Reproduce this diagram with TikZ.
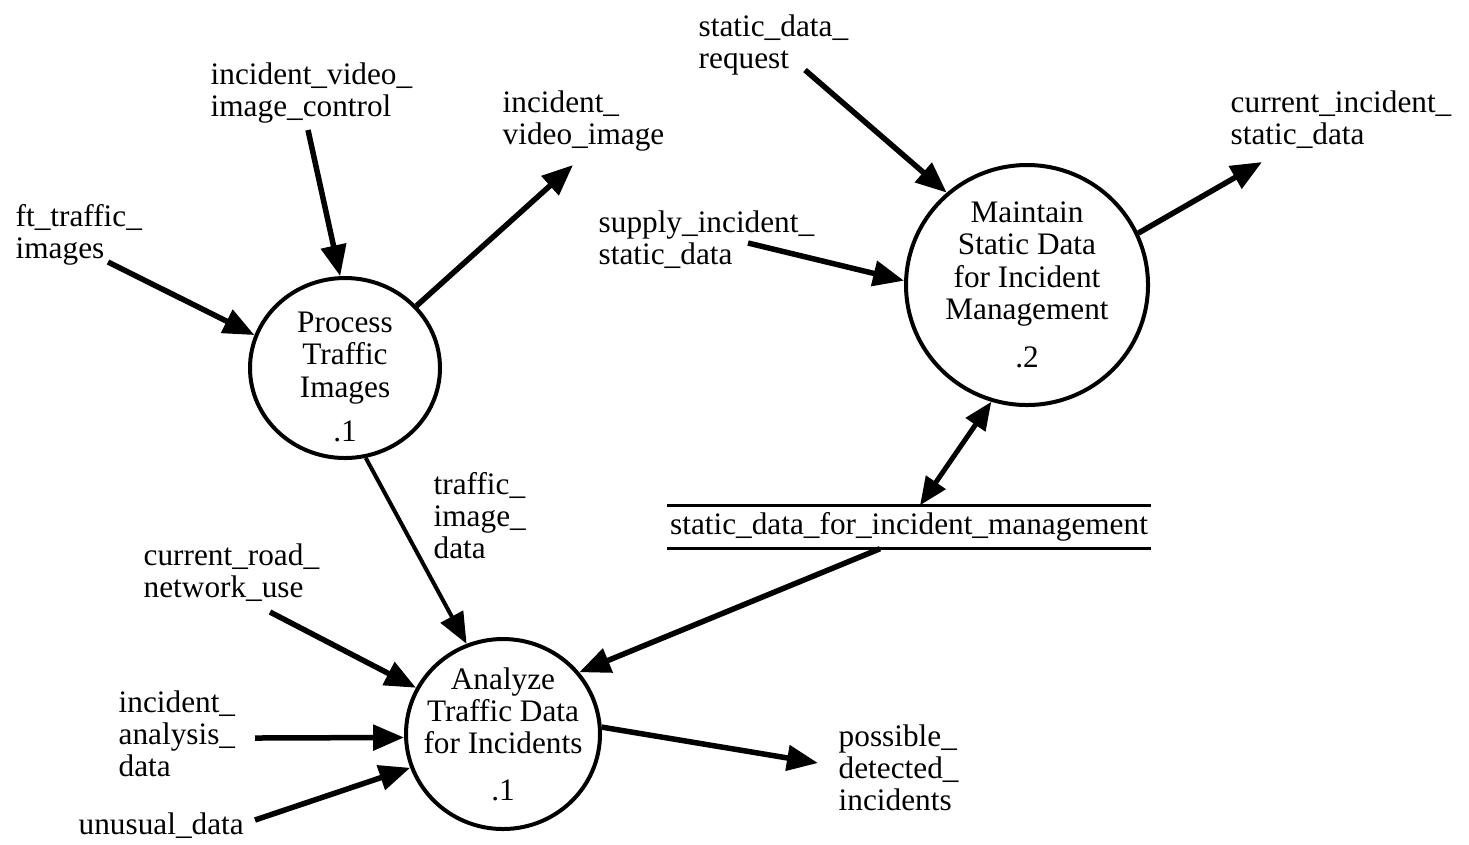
\documentclass[tikz,border=0pt]{standalone}
\usepackage{fontspec}
\setmainfont{Liberation Serif}
\usetikzlibrary{arrows.meta,shapes.geometric}

\tikzset{
  lbl/.style={anchor=north west, inner sep=0pt, align=left, font=\fontsize{8.9}{9.1}\selectfont},
  proc/.style={ellipse, draw, line width=0.4mm, inner sep=0pt},
  ptxt/.style={align=center, inner sep=0pt, font=\fontsize{8.9}{9.2}\selectfont},
  flow/.style={-{Triangle[length=3.1mm,width=2.5mm]}, line width=0.55mm},
  both/.style={{Triangle[length=2.8mm,width=2.3mm]}-{Triangle[length=2.8mm,width=2.3mm]}, line width=0.5mm}
}

\begin{document}
\begin{tikzpicture}[x=0.1mm, y=-0.1mm]
    \useasboundingbox (0,0) rectangle (1469,844);

    % Processes
    \node[proc, minimum width=19mm, minimum height=18mm] (p1) at (345,368) {};
    \node[ptxt] (p1txt) at ([yshift=-0.9mm]p1.center) {Process\\Traffic\\Images\\[3.5pt].1};
    \node[proc, minimum width=24.2mm, minimum height=24mm] (p2) at (1027,285) {};
    \node[ptxt] (p2txt) at (p2.center) {Maintain\\Static Data\\for Incident\\Management\\[4.5pt].2};
    \node[proc, minimum width=19.4mm, minimum height=19mm] (p3) at (503,734) {};
    \node[ptxt] (p3txt) at (p3.center) {Analyze\\Traffic Data\\for Incidents\\[4pt].1};

    % Data store
    \node[ptxt, minimum width=48.2mm, minimum height=4.2mm] (store) at (909,527) {static\_data\_for\_incident\_management};
    \draw[line width=0.35mm] (store.north west) -- (store.north east);
    \draw[line width=0.35mm] (store.south west) -- (store.south east);

    % Flow labels
    \node[lbl] (ivic) at (210,62) {incident\_video\_\\image\_control};
    \node[lbl] (iv) at (502,90) {incident\_\\video\_image};
    \node[lbl] (ft) at (15,204) {ft\_traffic\_\\images};
    \node[lbl] (sdr) at (698,14) {static\_data\_\\request};
    \node[lbl] (cis) at (1230,90) {current\_incident\_\\static\_data};
    \node[lbl] (sup) at (598,210) {supply\_incident\_\\static\_data};
    \node[lbl] (tid) at (433,472) {traffic\_\\image\_\\data};
    \node[lbl] (road) at (143,543) {current\_road\_\\network\_use};
    \node[lbl] (ana) at (118,690) {incident\_\\analysis\_\\data};
    \node[lbl] (unu) at (78,812) {unusual\_data};
    \node[lbl] (pdi) at (838,724) {possible\_\\detected\_\\incidents};

    % Free ends of the flows
    \coordinate (ftEnd) at (108,262);
    \coordinate (ivicEnd) at (308,130);
    \coordinate (ivEnd) at (573,165);
    \coordinate (sdrEnd) at (805,70);
    \coordinate (supEnd) at (748,243);
    \coordinate (cisEnd) at (1262,162);
    \coordinate (roadEnd) at (270,612);
    \coordinate (anaEnd) at (255,738);
    \coordinate (unuEnd) at (255,820);
    \coordinate (pdiEnd) at (818,763);

    % Flows
    \draw[flow] (ftEnd) -- (p1.160);
    \draw[flow] (ivicEnd) -- (p1.93);
    \draw[flow] (p1.41) -- (ivEnd);
    \draw[flow] (sdrEnd) -- (p2.131);
    \draw[flow] (supEnd) -- (p2.178);
    \draw[flow] (p2.25) -- (cisEnd);
    \draw[both] ([xshift=1.1mm]store.north) -- (p2.253);
    \draw[flow, line width=0.4mm] (p1.283) -- (p3.112);
    \draw[flow] ([xshift=-2.9mm]store.south) -- (p3.39);
    \draw[flow] (roadEnd) -- (p3.152);
    \draw[flow] (anaEnd) -- (p3.182);
    \draw[flow] (unuEnd) -- (p3.200);
    \draw[flow] (p3.4) -- (pdiEnd);
\end{tikzpicture}
\end{document}
